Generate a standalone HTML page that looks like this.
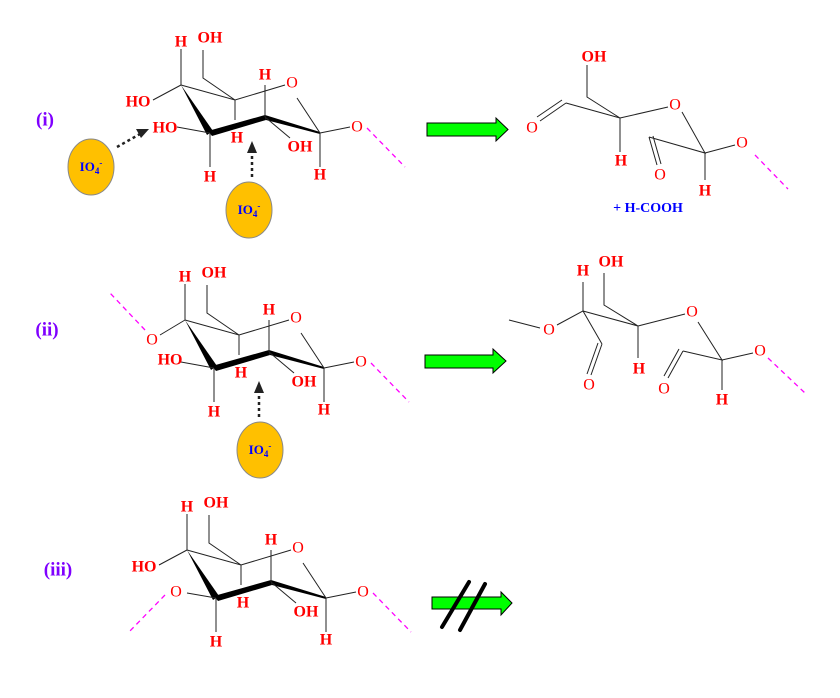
<!DOCTYPE html>
<html><head><meta charset="utf-8"><style>
html,body{margin:0;padding:0;background:#fff;}
svg{display:block;}
text{font-family:"Liberation Serif",serif;}
.r{fill:#f00;font-size:16px;font-weight:bold;}
.o{fill:#f00;font-size:16px;}
.ln{stroke:#222;stroke-width:1;fill:none;}
.pk{stroke:#f0f;stroke-width:1.3;stroke-dasharray:5,4;fill:none;}
.lab{fill:#7f00ff;font-size:19px;font-weight:bold;}
.io{fill:#00f;font-size:13px;font-weight:bold;}
.ga{fill:#00ff00;stroke:#000;stroke-width:1;}
</style></head><body>
<svg width="840" height="698" viewBox="0 0 840 698" xmlns="http://www.w3.org/2000/svg">
<defs>
<g id="ring">
 <polygon points="0,0 26,50 32,46" fill="#000"/>
 <polygon points="27,46 84,30 85,35 31,51" fill="#000"/>
 <polygon points="84,30 85,35 139,49 139,47" fill="#000"/>
 <path class="ln" d="M0,0 L54,15 L104,0 M116,13 L139,48 M54,15 L22,-7 L22,-35 M0,0 L0,-36 M54,15 L54,35 M29,48 L29,82 M84,32 L84,0 M84,32 L109,53 M139,48 L169,42 M139,48 L139,82"/>
 <text class="o" x="111" y="-2" text-anchor="middle" dominant-baseline="central">O</text>
 <text class="r" x="29" y="-47" text-anchor="middle" dominant-baseline="central">OH</text>
 <text class="r" x="0" y="-43" text-anchor="middle" dominant-baseline="central">H</text>
 <text class="r" x="56" y="53" text-anchor="middle" dominant-baseline="central">H</text>
 <text class="r" x="29" y="92" text-anchor="middle" dominant-baseline="central">H</text>
 <text class="r" x="84" y="-10" text-anchor="middle" dominant-baseline="central">H</text>
 <text class="r" x="119" y="62" text-anchor="middle" dominant-baseline="central">OH</text>
 <text class="o" x="176" y="42" text-anchor="middle" dominant-baseline="central">O</text>
 <text class="r" x="139" y="90" text-anchor="middle" dominant-baseline="central">H</text>
 <path class="pk" d="M186,43 L224,82"/>
</g>
</defs>

<text class="lab" x="45" y="120" text-anchor="middle" dominant-baseline="central">(i)</text>
<g transform="translate(181,85)">
 <use href="#ring"/>
 <path class="ln" d="M0,0 L-28,15 M29,48 L-4,42"/>
 <text class="r" x="-43" y="17" text-anchor="middle" dominant-baseline="central">HO</text>
 <text class="r" x="-16" y="43" text-anchor="middle" dominant-baseline="central">HO</text>
</g>
<ellipse cx="91" cy="167" rx="23" ry="28" fill="#ffc000" stroke="#888"/>
<text class="io" x="91" y="171" text-anchor="middle">IO<tspan font-size="9" dy="3">4</tspan><tspan font-size="9" dy="-8">-</tspan></text>
<path d="M117,147 L140,134" stroke="#222" stroke-width="2.5" stroke-dasharray="3,3"/>
<polygon points="149,129 136,129 141,138" fill="#222"/>
<ellipse cx="249" cy="210" rx="23" ry="28" fill="#ffc000" stroke="#888"/>
<text class="io" x="249" y="214" text-anchor="middle">IO<tspan font-size="9" dy="3">4</tspan><tspan font-size="9" dy="-8">-</tspan></text>
<path d="M252,177 L252,150" stroke="#222" stroke-width="2.5" stroke-dasharray="3,3"/>
<polygon points="252,141 247,153 257,153" fill="#222"/>

<polygon class="ga" points="427,123 496,123 496,118 508,129.5 496,141 496,136 427,136"/>

<path class="ln" d="M587,65 L587,97 L620,118 L566,103 M566,103 L540,121 M562,100 L537,117 M620,118 L668,107 M620,118 L620,152 M682,112 L705,153 L649,137 M649,137 L657,165 M653,136 L661,164 M705,153 L735,145 M705,153 L705,180"/>
<text class="r" x="594" y="57" text-anchor="middle" dominant-baseline="central">OH</text>
<text class="o" x="532" y="128" text-anchor="middle" dominant-baseline="central">O</text>
<text class="o" x="675" y="105" text-anchor="middle" dominant-baseline="central">O</text>
<text class="r" x="621" y="161" text-anchor="middle" dominant-baseline="central">H</text>
<text class="o" x="660" y="175" text-anchor="middle" dominant-baseline="central">O</text>
<text class="o" x="742" y="143" text-anchor="middle" dominant-baseline="central">O</text>
<text class="r" x="705" y="191" text-anchor="middle" dominant-baseline="central">H</text>
<path class="pk" d="M755,155 L788,189"/>
<text x="648" y="212" text-anchor="middle" fill="#00f" font-size="14" font-weight="bold">+ H-COOH</text>

<text class="lab" x="47" y="330" text-anchor="middle" dominant-baseline="central">(ii)</text>
<g transform="translate(185,320)">
 <use href="#ring"/>
 <path class="ln" d="M0,0 L-25,15 M29,48 L-4,42"/>
 <text class="o" x="-33" y="20" text-anchor="middle" dominant-baseline="central">O</text>
 <path class="pk" d="M-40,10 L-75,-27"/>
 <text class="r" x="-15" y="40" text-anchor="middle" dominant-baseline="central">HO</text>
</g>
<ellipse cx="260" cy="450" rx="23" ry="28" fill="#ffc000" stroke="#888"/>
<text class="io" x="260" y="454" text-anchor="middle">IO<tspan font-size="9" dy="3">4</tspan><tspan font-size="9" dy="-8">-</tspan></text>
<path d="M259,417 L259,391" stroke="#222" stroke-width="2.5" stroke-dasharray="3,3"/>
<polygon points="259,381 254,393 264,393" fill="#222"/>

<polygon class="ga" points="425,355 493,355 493,349 506,361 493,373 493,368 425,368"/>

<path class="ln" d="M509,320 L540,328 M557,325 L583,311 L583,282 M583,311 L602,344 M602,344 L591,375 M598,343 L587,374 M583,311 L638,326 L604,305 L604,273 M638,326 L685,314 M638,326 L638,358 M698,322 L722,360 L683,351 M683,351 L668,378 M679,349 L664,376 M722,360 L753,353 M722,360 L722,390"/>
<text class="o" x="549" y="330" text-anchor="middle" dominant-baseline="central">O</text>
<text class="r" x="583" y="271" text-anchor="middle" dominant-baseline="central">H</text>
<text class="r" x="611" y="262" text-anchor="middle" dominant-baseline="central">OH</text>
<text class="o" x="589" y="385" text-anchor="middle" dominant-baseline="central">O</text>
<text class="o" x="692" y="312" text-anchor="middle" dominant-baseline="central">O</text>
<text class="r" x="639" y="369" text-anchor="middle" dominant-baseline="central">H</text>
<text class="o" x="664" y="389" text-anchor="middle" dominant-baseline="central">O</text>
<text class="o" x="760" y="351" text-anchor="middle" dominant-baseline="central">O</text>
<text class="r" x="722" y="400" text-anchor="middle" dominant-baseline="central">H</text>
<path class="pk" d="M768,358 L805,393"/>

<text class="lab" x="58" y="570" text-anchor="middle" dominant-baseline="central">(iii)</text>
<g transform="translate(187,550)">
 <use href="#ring"/>
 <path class="ln" d="M0,0 L-28,15 M29,48 L0,43"/>
 <text class="r" x="-43" y="17" text-anchor="middle" dominant-baseline="central">HO</text>
 <text class="o" x="-11" y="42" text-anchor="middle" dominant-baseline="central">O</text>
 <path class="pk" d="M-22,45 L-59,83"/>
</g>
<polygon class="ga" points="432,597 501,597 501,592 512,603 501,615 501,609 432,609"/>
<path d="M442,627 L469,582 M460,630 L485,584" stroke="#000" stroke-width="4" stroke-linecap="round"/>
</svg>
</body></html>
